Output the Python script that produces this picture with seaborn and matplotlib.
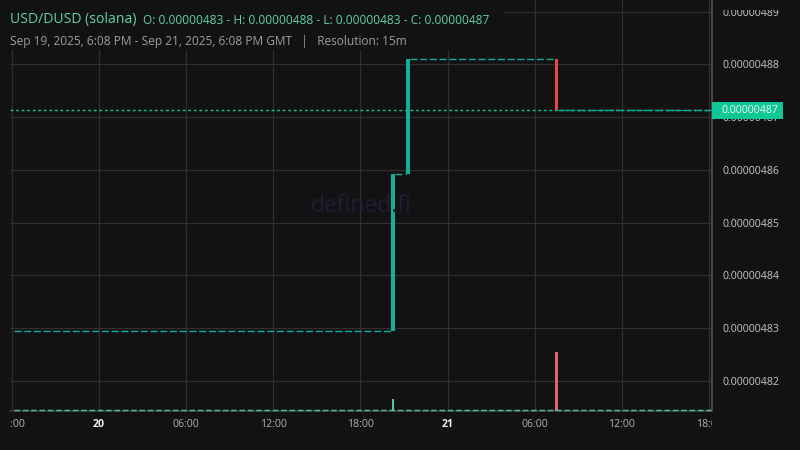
import pandas as pd
import numpy as np
import matplotlib
matplotlib.use("Agg")
import matplotlib.pyplot as plt
import matplotlib.dates as mdates
from matplotlib.transforms import Bbox, TransformedBbox
from matplotlib.patches import Rectangle
import seaborn as sns

# candles that moved (15m resolution, buckets start at :08), everything else is flat
move_times = ["2025-09-20 20:08", "2025-09-20 21:08", "2025-09-21 07:23"]
move_open = [4.8294e-6, 4.8592e-6, 4.8811e-6]
move_close = [4.8592e-6, 4.8811e-6, 4.8713e-6]
move_volume = [245, 30, 1200]

start_time = "2025-09-19 18:08"
end_time = "2025-09-21 18:08"
last_price = 4.8713e-6

tick_times = pd.date_range("2025-09-19 18:00", "2025-09-21 18:00", freq="6h")
tick_labels = ["18:00", "20", "06:00", "12:00", "18:00", "21", "06:00", "12:00", "18:00"]
price_ticks = [4.82e-6, 4.83e-6, 4.84e-6, 4.85e-6, 4.86e-6, 4.87e-6, 4.88e-6, 4.89e-6]

bg = "#121212"
teal = "#13ae9a"
red = "#e5474f"

sns.set_theme(style="dark", rc={"axes.facecolor": bg, "figure.facecolor": bg})
plt.rcParams['font.family'] = ['Open Sans', 'DejaVu Sans']

fig = plt.figure(figsize=(8, 4.5), dpi=100)
pos = [10 / 800, 39 / 450, 702 / 800, 411 / 450]
ax = fig.add_axes(pos)
vax = fig.add_axes(pos, sharex=ax)
vax.patch.set_visible(False)

mt = pd.to_datetime(move_times)
width = pd.Timedelta(minutes=15)
x_mid = mdates.date2num(mt + width / 2)
bar_w = 15 / 1440

# flat stretches between moving candles
flat_start = [pd.Timestamp(start_time)] + list(mt + width)
flat_end = list(mt) + [pd.Timestamp(end_time)]
flat_level = [move_open[0]] + move_close
ax.hlines(flat_level, mdates.date2num(flat_start), mdates.date2num(flat_end),
          colors=teal, linewidth=1, linestyles=(0, (5, 2)), zorder=3)

# current price dotted line
ax.axhline(last_price, color="#12c4a0", linewidth=1, linestyle=(0, (2, 2)), zorder=2)

colors = [teal if c >= o else red for o, c in zip(move_open, move_close)]
bottoms = [min(o, c) for o, c in zip(move_open, move_close)]
heights = [abs(c - o) for o, c in zip(move_open, move_close)]
ax.bar(x_mid, heights, bottom=bottoms, width=bar_w, color=colors, linewidth=0, zorder=4)

# volume
vcolors = ["#4fc6a0" if c >= o else "#e0607a" for o, c in zip(move_open, move_close)]
vax.bar(x_mid, move_volume, width=10 / 1440, color=vcolors, linewidth=0)
vax.hlines(12, mdates.date2num(pd.Timestamp(start_time)), mdates.date2num(pd.Timestamp(end_time)),
           colors="#4fc6a0", linewidth=1, linestyles=(0, (4, 2)), clip_on=False)
vax.set_ylim(0, 8360)
vax.set_yticks([])
vax.tick_params(axis="x", length=0, labelbottom=False)
for s in vax.spines.values():
    s.set_visible(False)

ax.set_xlim(mdates.date2num(pd.Timestamp("2025-09-19 17:53")),
            mdates.date2num(pd.Timestamp("2025-09-21 18:12")))
ax.set_ylim(4.8143e-6, 4.8922e-6)

ax.set_yticks(price_ticks)
ax.set_yticklabels([f"{v:.8f}" for v in price_ticks])
ax.yaxis.tick_right()
ax.tick_params(axis="y", length=0, pad=7.5, labelsize=7.6, labelcolor="#c8c8c8")
ax.set_xticks(mdates.date2num(tick_times))
ax.set_xticklabels(tick_labels)
ax.tick_params(axis="x", length=0, pad=6, labelsize=7.6, labelcolor="#b0b0b0")

clip = TransformedBbox(Bbox([[0, -1], [1, 2]]), ax.transAxes)
for lab in ax.get_xticklabels():
    lab.set_clip_on(True)
    lab.set_clip_box(clip)
    if lab.get_text() in ("20", "21"):
        lab.set_fontweight("bold")
        lab.set_color("#f0f0f0")
yclip = TransformedBbox(Bbox([[0, 0], [1, 1 - 10 / 450]]), fig.transFigure)
for lab in ax.get_yticklabels():
    lab.set_clip_on(True)
    lab.set_clip_box(yclip)

ax.grid(True, color="#2f2f2f", linewidth=0.9)
for side in ("left", "top"):
    ax.spines[side].set_visible(False)
ax.spines["right"].set_color("#505050")
ax.spines["bottom"].set_color("#3a3a3a")

fig.text(361 / 800, 1 - 206 / 450, "defined.fi", ha="center", va="center",
         fontsize=16.5, color="#1f1d38", zorder=1)

# header
fig.patches.append(Rectangle((0, 1 - 50 / 450), 503 / 800, 50 / 450, transform=fig.transFigure,
                             facecolor=bg, edgecolor="none", zorder=5))
fig.text(10 / 800, 1 - 20 / 450, "USD/DUSD (solana)", fontsize=10.1, color="#5fd1ab",
         va="center", ha="left", zorder=6)
fig.text(143 / 800, 1 - 20 / 450,
         "O: 0.00000483 - H: 0.00000488 - L: 0.00000483 - C: 0.00000487",
         fontsize=8.55, color="#5fd1ab", va="center", ha="left", zorder=6)
fig.text(10 / 800, 1 - 41 / 450,
         "Sep 19, 2025, 6:08 PM - Sep 21, 2025, 6:08 PM GMT   |   Resolution: 15m",
         fontsize=8.6, color="#9e9e9e", va="center", ha="left", zorder=6)

# last price label
fig.patches.append(Rectangle((712 / 800, 1 - 119 / 450), 71 / 800, 17 / 450, transform=fig.transFigure,
                             facecolor="#0dc894", edgecolor="none", zorder=5))
fig.text(722 / 800, 1 - 110.5 / 450, "0.00000487", fontsize=7.6, color="#f4f4f4",
         va="center", ha="left", zorder=6)

fig.savefig("out.png", dpi=100, facecolor=bg)
